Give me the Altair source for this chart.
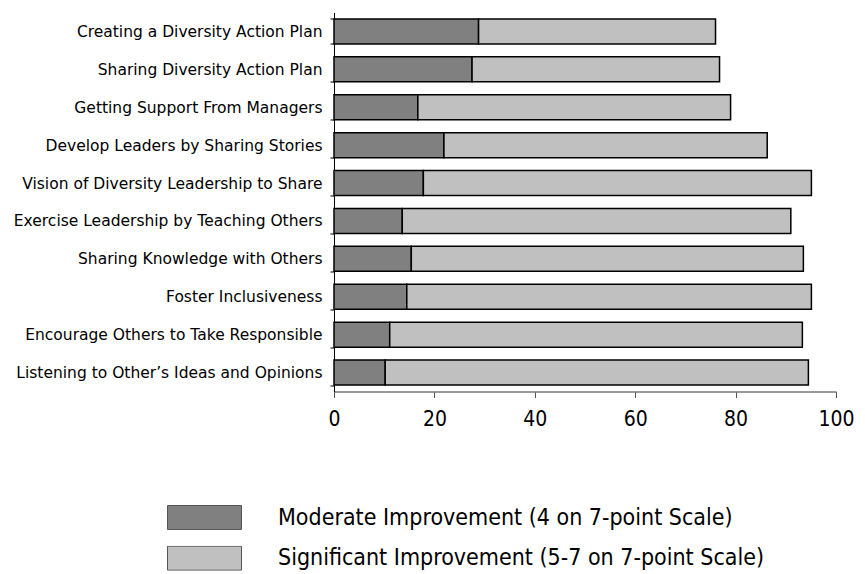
import altair as alt
import pandas as pd

categories = [
    "Creating a Diversity Action Plan",
    "Sharing Diversity Action Plan",
    "Getting Support From Managers",
    "Develop Leaders by Sharing Stories",
    "Vision of Diversity Leadership to Share",
    "Exercise Leadership by Teaching Others",
    "Sharing Knowledge with Others",
    "Foster Inclusiveness",
    "Encourage Others to Take Responsible",
    "Listening to Other\u2019s Ideas and Opinions",
]
moderate = [28.8, 27.5, 16.7, 21.9, 17.8, 13.6, 15.4, 14.5, 11.1, 10.2]
significant = [47.2, 49.3, 62.3, 64.4, 77.3, 77.4, 78.1, 80.6, 82.2, 84.3]
series = ["Moderate Improvement (4 on 7-point Scale)",
          "Significant Improvement (5-7 on 7-point Scale)"]
colors = ["#808080", "#c0c0c0"]
x_ticks = [0, 20, 40, 60, 80, 100]

rows = []
for c, m, s in zip(categories, moderate, significant):
    rows.append({"cat": c, "series": series[0], "value": m, "ord": 0})
    rows.append({"cat": c, "series": series[1], "value": s, "ord": 1})
df = pd.DataFrame(rows)

cond_font = "DejaVu Sans Condensed, Liberation Sans, sans-serif"

chart = alt.Chart(df).mark_bar(stroke="black", strokeWidth=1.5).encode(
    y=alt.Y("cat:N", sort=categories, title=None,
            scale=alt.Scale(paddingInner=0.34, paddingOuter=0.17),
            axis=alt.Axis(labelFont="DejaVu Sans", labelFontSize=15.5,
                          labelColor="black", tickBand="extent",
                          tickSize=4, tickColor="black", domainColor="black",
                          labelPadding=8, labelLimit=400, grid=False)),
    x=alt.X("value:Q", stack="zero", title=None,
            scale=alt.Scale(domain=[0, 100], nice=False),
            axis=alt.Axis(values=x_ticks, labelFont=cond_font, labelFontSize=21,
                          labelColor="black", tickSize=6, tickColor="#555555",
                          domainColor="#777777", domainWidth=1.5,
                          labelFlush=False, labelOverlap=False,
                          labelPadding=11, grid=False)),
    color=alt.Color("series:N", scale=alt.Scale(domain=series, range=colors),
                    legend=alt.Legend(
                        title=None, orient="none", legendX=-167, legendY=492.5,
                        direction="vertical", padding=0,
                        symbolType="M-1,-0.324 h2 v0.648 h-2 Z", symbolSize=5476,
                        symbolStrokeColor="#555555", symbolStrokeWidth=1,
                        symbolOpacity=1, clipHeight=25,
                        labelFont=cond_font, labelFontSize=23, labelColor="black",
                        labelOffset=36, rowPadding=15.7, labelLimit=700)),
    order=alt.Order("ord:Q"),
).properties(
    width=502, height=379,
    autosize=alt.AutoSizeParams(type="none"),
    padding={"left": 326, "top": 4.5, "right": 20, "bottom": 186},
).configure_view(stroke=None)

chart.save("out.html", embed_options={"renderer": "svg", "actions": False})
